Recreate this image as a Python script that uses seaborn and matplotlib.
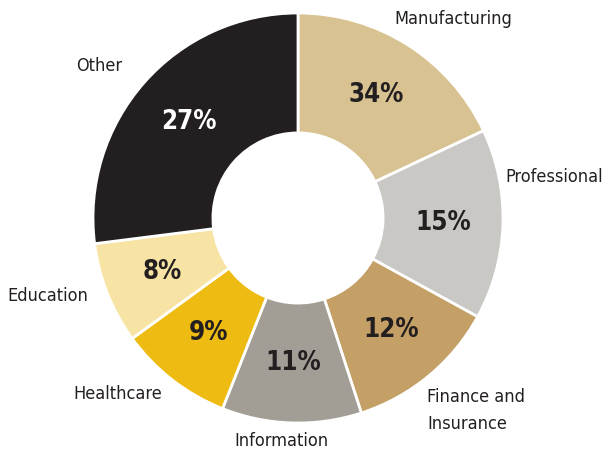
import matplotlib
matplotlib.use("Agg")
import matplotlib.pyplot as plt
import seaborn as sns

# === Data ===
categories = ["Manufacturing", "Professional", "Finance and\nInsurance", "Information",
              "Healthcare", "Education", "Other"]
shares = [18, 15, 12, 11, 9, 8, 27]          # slice sizes as drawn
pct_labels = ["34%", "15%", "12%", "11%", "9%", "8%", "27%"]   # printed on slices
colors = ["#D8C291", "#CAC8C4", "#C4A066", "#A29E96", "#EDBB12", "#F7E3A3", "#231F20"]
pct_colors = ["#231F20"] * 6 + ["#FFFFFF"]

# label placement (data coords, radius 1 = outer edge)
label_pos = [(0.76, 0.97, "center"), (1.01, 0.20, "left"), (0.63, -0.94, "left"),
             (-0.08, -1.09, "center"), (-0.88, -0.86, "center"), (-1.22, -0.38, "center"),
             (-0.97, 0.74, "center")]

sns.set_theme(style="white")
plt.rcParams["font.family"] = ["DejaVu Sans"]

fig = plt.figure(figsize=(6.06, 4.53), dpi=100)
ax = fig.add_axes([93 / 606, 30 / 453, 410 / 606, 410 / 453])

wedges, texts, autotexts = ax.pie(
    shares, colors=colors, startangle=90, counterclock=False,
    radius=1.0, pctdistance=0.71, autopct=lambda p: "",
    wedgeprops=dict(width=0.585, edgecolor="white", linewidth=2),
)

for t, lab, c in zip(autotexts, pct_labels, pct_colors):
    t.set_text(lab)
    t.set_color(c)
    t.set_fontsize(18.5)
    t.set_fontweight("bold")
    t.set_fontstretch("condensed")

for name, (x, y, ha) in zip(categories, label_pos):
    ax.text(x, y, name, ha=ha, va="center", fontsize=13, color="#231F20",
            fontstretch="condensed", linespacing=1.6)

ax.set_xlim(-1, 1)
ax.set_ylim(-1, 1)
ax.set_aspect("equal")
ax.axis("off")

fig.savefig("out.png", dpi=100)
